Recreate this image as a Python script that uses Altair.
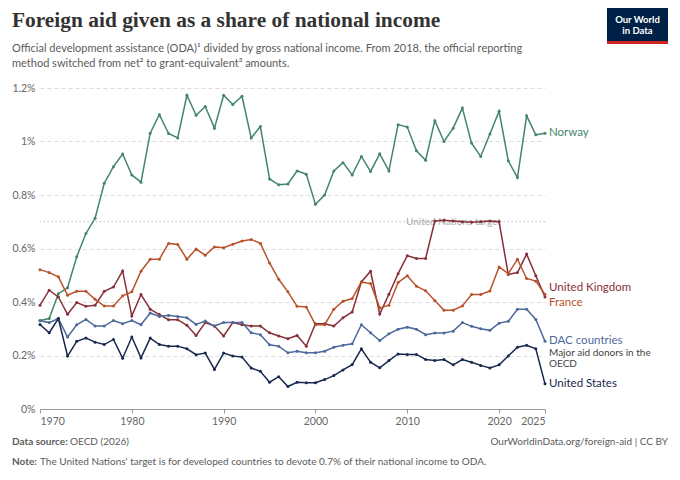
import altair as alt
import pandas as pd

years = list(range(1970, 2026))

norway = [0.331, 0.338, 0.431, 0.453, 0.569, 0.656, 0.713, 0.844, 0.906, 0.953,
          0.875, 0.848, 1.031, 1.100, 1.030, 1.013, 1.173, 1.098, 1.131, 1.050,
          1.173, 1.138, 1.169, 1.013, 1.056, 0.860, 0.838, 0.841, 0.890, 0.878,
          0.765, 0.800, 0.890, 0.921, 0.875, 0.944, 0.888, 0.954, 0.890, 1.063,
          1.054, 0.965, 0.930, 1.078, 1.000, 1.050, 1.125, 0.994, 0.944, 1.028,
          1.113, 0.928, 0.865, 1.096, 1.025, 1.031]
uk = [0.388, 0.444, 0.419, 0.354, 0.398, 0.384, 0.388, 0.440, 0.456, 0.516,
      0.348, 0.428, 0.373, 0.353, 0.334, 0.334, 0.313, 0.275, 0.323, 0.310,
      0.273, 0.323, 0.315, 0.310, 0.310, 0.285, 0.273, 0.263, 0.275, 0.235,
      0.319, 0.319, 0.310, 0.341, 0.363, 0.475, 0.515, 0.355, 0.429, 0.506,
      0.573, 0.563, 0.563, 0.703, 0.706, 0.703, 0.700, 0.698, 0.700, 0.703,
      0.700, 0.503, 0.510, 0.579, 0.498, 0.419]
france = [0.521, 0.510, 0.494, 0.425, 0.440, 0.440, 0.410, 0.385, 0.385, 0.423,
          0.438, 0.515, 0.560, 0.560, 0.619, 0.615, 0.560, 0.598, 0.575, 0.606,
          0.603, 0.616, 0.628, 0.634, 0.619, 0.546, 0.485, 0.438, 0.384, 0.381,
          0.315, 0.315, 0.373, 0.403, 0.413, 0.475, 0.469, 0.378, 0.388, 0.473,
          0.498, 0.459, 0.442, 0.406, 0.369, 0.369, 0.385, 0.428, 0.428, 0.441,
          0.531, 0.506, 0.560, 0.488, 0.478, 0.428]
dac = [0.330, 0.323, 0.338, 0.269, 0.315, 0.335, 0.310, 0.310, 0.331, 0.319,
       0.331, 0.315, 0.359, 0.346, 0.350, 0.346, 0.341, 0.316, 0.329, 0.310,
       0.323, 0.323, 0.323, 0.285, 0.278, 0.240, 0.235, 0.210, 0.216, 0.210,
       0.210, 0.216, 0.231, 0.238, 0.244, 0.315, 0.285, 0.256, 0.281, 0.298,
       0.306, 0.298, 0.278, 0.284, 0.284, 0.291, 0.323, 0.309, 0.300, 0.294,
       0.321, 0.328, 0.373, 0.373, 0.335, 0.253]
us = [0.316, 0.285, 0.338, 0.198, 0.253, 0.265, 0.250, 0.241, 0.260, 0.190,
      0.269, 0.191, 0.265, 0.241, 0.235, 0.235, 0.225, 0.203, 0.209, 0.148,
      0.209, 0.198, 0.194, 0.153, 0.141, 0.100, 0.121, 0.084, 0.100, 0.098,
      0.098, 0.110, 0.125, 0.146, 0.166, 0.225, 0.175, 0.154, 0.181, 0.206,
      0.204, 0.204, 0.185, 0.181, 0.185, 0.165, 0.185, 0.175, 0.163, 0.153,
      0.165, 0.198, 0.231, 0.238, 0.225, 0.094]

series_names = ["Norway", "United Kingdom", "France", "DAC countries", "United States"]
series_colors = ["#43866c", "#883039", "#b9522a", "#4c6a9c", "#18294f"]
x_ticks = [1970, 1980, 1990, 2000, 2010, 2020, 2025]
y_ticks = [0, 0.2, 0.4, 0.6, 0.8, 1.0, 1.2]
un_target = [0.7]

TITLE = "Foreign aid given as a share of national income"
SUB1 = "Official development assistance (ODA)\u00b9 divided by gross national income. From 2018, the official reporting"
SUB2 = "method switched from net\u00b2 to grant-equivalent\u00b3 amounts."
SOURCE_B = "Data source:"
SOURCE = "OECD (2026)"
URL = "OurWorldinData.org/foreign-aid | CC BY"
NOTE_B = "Note:"
NOTE = "The United Nations' target is for developed countries to devote 0.7% of their national income to ODA."
UN_LABEL = "United Nations target"
DAC_SUB1 = "Major aid donors in the"
DAC_SUB2 = "OECD"

rows = []
for name, vals in zip(series_names, [norway, uk, france, dac, us]):
    for yr, v in zip(years, vals):
        rows.append({"Year": yr, "Country": name, "Share": v})
df = pd.DataFrame(rows)

W, H = 505, 321
FONT = "Lato"

xenc = alt.X("Year:Q",
             scale=alt.Scale(domain=[1970, 2025], nice=False, zero=False),
             axis=alt.Axis(values=x_ticks, format="d", labelFlush=True, grid=False,
                           domainColor="#999", tickColor="#999", tickSize=4,
                           labelColor="#666", labelFont=FONT, labelFontSize=10.5,
                           labelPadding=3, title=None))
yenc = alt.Y("Share:Q",
             scale=alt.Scale(domain=[0, 1.2], nice=False),
             axis=alt.Axis(values=y_ticks, labelExpr="datum.value + '%'", grid=True,
                           gridDash=[4, 3], gridColor="#dcdcdc", domain=False, ticks=False,
                           labelColor="#666", labelFont=FONT, labelFontSize=10.5,
                           labelPadding=5, title=None))
cenc = alt.Color("Country:N", scale=alt.Scale(domain=series_names, range=series_colors),
                 legend=None)

one = pd.DataFrame({"a": [0]})

un_df = pd.DataFrame({"Share": un_target})
un_rule = alt.Chart(un_df).mark_rule(color="#bbb", strokeDash=[1.5, 2.5], strokeWidth=1).encode(
    y="Share:Q")
un_text = alt.Chart(un_df).mark_text(color="#aaa", font=FONT, fontSize=10, align="left",
                                     baseline="middle").encode(
    y="Share:Q", x=alt.value(366), text=alt.value(UN_LABEL))

lines = alt.Chart(df).mark_line(strokeWidth=1.5, point=alt.OverlayMarkDef(size=9, filled=True)).encode(
    x=xenc, y=yenc, color=cenc)

last = alt.Chart(df).transform_filter(alt.datum.Year == 2025)


def end_label(name, dy):
    return last.transform_filter(alt.datum.Country == name).mark_text(
        align="left", baseline="middle", dx=4, dy=dy, font=FONT, fontSize=11.5).encode(
        x="Year:Q", y="Share:Q", text="Country:N", color=cenc)


labels = [end_label("Norway", 0), end_label("United Kingdom", -9), end_label("France", 8),
          end_label("DAC countries", 0), end_label("United States", 0)]

dac_last = last.transform_filter(alt.datum.Country == "DAC countries")
dac_sub = [
    dac_last.mark_text(align="left", baseline="middle", dx=4, dy=dy, font=FONT, fontSize=10,
                       color="#444").encode(x="Year:Q", y="Share:Q", text=alt.value(t))
    for t, dy in [(DAC_SUB1, 12), (DAC_SUB2, 23)]
]


def txt(t, xp, yp, size, color="#5b5b5b", weight="normal", align="left", font=FONT):
    return alt.Chart(one).mark_text(align=align, baseline="alphabetic", fontSize=size,
                                    color=color, fontWeight=weight, font=font).encode(
        x=alt.value(xp), y=alt.value(yp), text=alt.value(t))


texts = [
    txt(TITLE, -28, -61, 21.4, color="#333", weight="bold", font="Liberation Serif"),
    txt(SUB1, -28, -36, 11),
    txt(SUB2, -28, -21, 11),
    txt(SOURCE_B, -28, 357, 10, weight="bold"),
    txt(SOURCE, 30, 357, 10),
    txt(URL, 628, 357, 10, align="right"),
    txt(NOTE_B, -28, 377, 10, weight="bold"),
    txt(NOTE, 0, 377, 10),
]

logo_bg = alt.Chart(one).mark_rect(color="#002147").encode(
    x=alt.value(567), x2=alt.value(628), y=alt.value(-80), y2=alt.value(-47))
logo_bar = alt.Chart(one).mark_rect(color="#ce261e").encode(
    x=alt.value(567), x2=alt.value(628), y=alt.value(-47), y2=alt.value(-44))
logo_t = [
    alt.Chart(one).mark_text(align="center", baseline="alphabetic", fontSize=9.5, color="white",
                             font=FONT, fontWeight="bold").encode(
        x=alt.value(597.5), y=alt.value(yy), text=alt.value(t))
    for t, yy in [("Our World", -65), ("in Data", -54)]
]

chart = alt.layer(un_rule, un_text, lines, *labels, *dac_sub, *texts, logo_bg, logo_bar, *logo_t).properties(
    width=W, height=H,
    autosize=alt.AutoSizeParams(type="none"),
    padding={"left": 32, "top": 80, "right": 127, "bottom": 63},
    background="white",
).configure_view(stroke=None)

chart.save("out.html", embed_options={"renderer": "svg", "actions": False})
